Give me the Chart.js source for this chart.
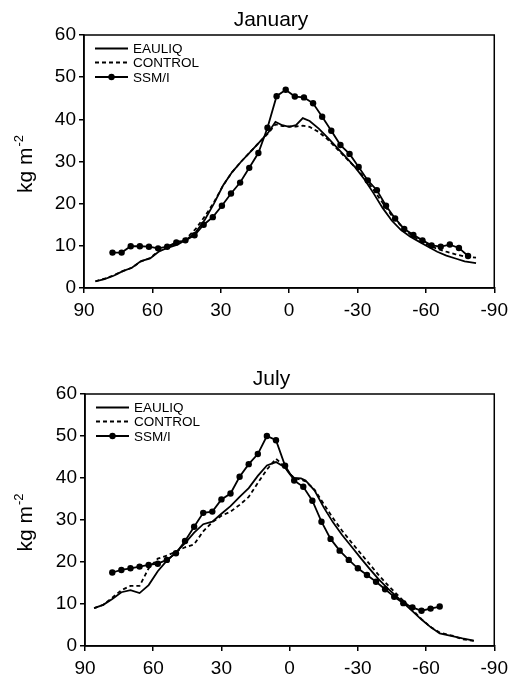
<!DOCTYPE html>
<html>
<head>
<meta charset="utf-8">
<script src="https://cdn.jsdelivr.net/npm/chart.js@4"></script>
<style>
  body { margin: 0; background: #fff; }
  canvas { position: absolute; left: 0; }
  #jan-chart { top: 0; }
  #jul-chart { top: 340px; }
</style>
</head>
<body>
<canvas id="jan-chart" width="514" height="340"></canvas>
<canvas id="jul-chart" width="514" height="338"></canvas>
<script>
// January: model runs on their latitude grid, SSM/I on its own
const janModelLat = [85, 81, 77, 73, 69, 65, 61, 57, 53, 49, 45, 41, 37, 33, 29, 25, 21, 17, 13, 9,
    6, 3, 0, -3, -6, -9, -13, -17, -21, -25, -29, -33, -37, -41, -45, -49, -53, -57, -61, -65,
    -69, -73, -77, -82];
const janEauliq = [1.6, 2.1, 2.9, 4.0, 4.8, 6.4, 7.0, 8.7, 9.6, 10.3, 11.5, 13.2, 16.2, 20.0, 24.3, 27.5, 30.0, 32.3, 34.6, 37.0,
    39.4, 38.6, 38.2, 38.6, 40.3, 39.6, 37.8, 35.6, 33.3, 31.0, 28.6, 25.8, 22.5, 19.0, 16.0, 13.8, 12.2, 11.0, 9.8, 8.6,
    7.7, 7.0, 6.3, 5.9];
const janControl = [1.6, 2.2, 3.0, 4.0, 4.8, 6.3, 7.1, 8.9, 9.8, 10.8, 11.8, 14.0, 17.0, 20.3, 24.3, 27.5, 30.0, 32.3, 34.6, 36.8,
    38.8, 38.4, 38.3, 38.3, 38.5, 38.2, 37.0, 35.2, 33.0, 30.8, 28.6, 26.2, 23.3, 20.2, 17.2, 14.8, 12.8, 11.3, 10.2, 9.3,
    8.6, 8.0, 7.5, 7.2];
const janSsmiLat = [77.5, 73.5, 69.5, 65.5, 61.5, 57.5, 53.5, 49.5, 45.5, 41.5, 37.5, 33.5, 29.5, 25.5, 21.5, 17.5, 13.5, 9.5, 5.5, 1.5,
    -2.5, -6.5, -10.5, -14.5, -18.5, -22.5, -26.5, -30.5, -34.5, -38.5, -42.5, -46.5, -50.5, -54.5, -58.5, -62.5, -66.5, -70.5, -74.5, -78.5];
const janSsmi = [8.4, 8.4, 9.9, 9.9, 9.8, 9.4, 9.8, 10.8, 11.3, 12.5, 15.0, 16.8, 19.5, 22.4, 25.0, 28.5, 32.0, 38.0, 45.5, 47.0,
    45.4, 45.2, 43.8, 40.6, 37.3, 33.9, 31.8, 28.7, 25.5, 23.2, 19.5, 16.5, 14.0, 12.6, 11.3, 10.1, 9.8, 10.3, 9.5, 7.6];

// July
const julModelLat = [86, 82, 78, 74, 70, 66, 62, 58, 54, 50, 46, 42, 38, 34, 30, 26, 22, 18, 14, 10,
    6, 2, 0, -2, -5, -7, -11, -15, -19, -23, -27, -31, -35, -39, -43, -47, -50, -54, -58, -62,
    -66, -72, -76, -81];
const julEauliq = [9.0, 9.8, 11.2, 12.8, 13.3, 12.6, 14.5, 17.8, 20.3, 22.3, 24.5, 27.0, 29.0, 29.6, 31.5, 33.3, 35.5, 37.6, 40.5, 43.0,
    43.8, 42.5, 41.0, 40.0, 39.9, 39.4, 37.0, 33.0, 29.5, 26.5, 23.8, 21.1, 18.5, 16.0, 13.8, 11.8, 10.3, 8.3, 6.3, 4.5,
    3.0, 2.3, 1.8, 1.3];
const julControl = [9.0, 9.8, 11.5, 13.3, 14.3, 14.3, 18.5, 20.8, 21.5, 22.5, 23.5, 24.2, 27.3, 29.5, 31.0, 32.0, 33.6, 35.5, 38.8, 42.0,
    44.6, 42.6, 41.0, 40.0, 39.6, 39.2, 37.2, 33.8, 30.5, 27.5, 24.8, 22.2, 19.6, 17.0, 14.6, 12.4, 10.8, 8.6, 6.4, 4.5,
    3.2, 2.4, 1.6, 1.2];
const julSsmiLat = [78, 74, 70, 66, 62, 58, 54, 50, 46, 42, 38, 34, 30, 26, 22, 18, 14, 10, 6, 2,
    -2, -6, -10, -14, -18, -22, -26, -30, -34, -38, -42, -46, -50, -54, -58, -62, -66];
const julSsmi = [17.5, 18.1, 18.5, 18.9, 19.3, 19.6, 20.5, 22.1, 25.0, 28.4, 31.7, 32.0, 34.9, 36.3, 40.3, 43.3, 45.7, 50.0, 49.0, 42.9,
    39.4, 37.9, 34.6, 29.6, 25.5, 22.7, 20.5, 18.5, 16.9, 15.3, 13.5, 11.7, 10.2, 9.2, 8.4, 8.9, 9.4];

const latTicks = [90, 60, 30, 0, -30, -60, -90];
const valueTicks = [0, 10, 20, 30, 40, 50, 60];
const seriesNames = ['EAULIQ', 'CONTROL', 'SSM/I'];

const FONT = '"Liberation Sans", Arial, Helvetica, sans-serif';
Chart.defaults.font.family = FONT;
Chart.defaults.color = '#000';

function toPoints(lat, values) {
    return lat.map((x, i) => ({ x: x, y: values[i] }));
}

// box around the plot area
const framePlugin = {
    id: 'frame',
    afterDraw(chart) {
        const { ctx, chartArea: a } = chart;
        ctx.save();
        ctx.strokeStyle = '#000';
        ctx.lineWidth = 1.5;
        ctx.strokeRect(a.left, a.top, a.right - a.left, a.bottom - a.top);
        ctx.restore();
    }
};

// legend sits inside the plot, top left
const insideLegend = {
    id: 'insideLegend',
    afterDatasetsDraw(chart) {
        const { ctx, chartArea: a } = chart;
        const rows = [13.5, 27.5, 42];
        chart.data.datasets.forEach((ds, i) => {
            const y = a.top + rows[i];
            const x0 = a.left + 11;
            const x1 = a.left + 44;
            ctx.save();
            ctx.strokeStyle = ds.borderColor;
            ctx.lineWidth = ds.borderWidth;
            ctx.setLineDash(ds.borderDash || []);
            ctx.beginPath();
            ctx.moveTo(x0, y);
            ctx.lineTo(x1, y);
            ctx.stroke();
            ctx.setLineDash([]);
            if (ds.pointRadius > 0) {
                ctx.beginPath();
                ctx.arc((x0 + x1) / 2, y, ds.pointRadius, 0, Math.PI * 2);
                ctx.fillStyle = ds.pointBackgroundColor;
                ctx.fill();
            }
            ctx.fillStyle = '#000';
            ctx.font = '13.5px ' + FONT;
            ctx.textBaseline = 'middle';
            ctx.fillText(ds.label, x1 + 5, y + 1);
            ctx.restore();
        });
    }
};

// "kg m-2" with a raised exponent, written up the left side
const unitTitle = {
    id: 'unitTitle',
    afterDraw(chart) {
        const { ctx, chartArea: a } = chart;
        ctx.save();
        ctx.translate(26, (a.top + a.bottom) / 2 + 3);
        ctx.rotate(-Math.PI / 2);
        ctx.fillStyle = '#000';
        ctx.textBaseline = 'middle';
        ctx.font = '21px ' + FONT;
        const w1 = ctx.measureText('kg m').width;
        ctx.font = '13px ' + FONT;
        const w2 = ctx.measureText('-2').width;
        const x = -(w1 + w2) / 2;
        ctx.font = '21px ' + FONT;
        ctx.fillText('kg m', x, 0);
        ctx.font = '13px ' + FONT;
        ctx.fillText('-2', x + w1 + 1, -7);
        ctx.restore();
    }
};

function makeChart(canvasId, title, modelLat, eauliq, control, ssmiLat, ssmi, box) {
    const canvas = document.querySelector(canvasId);
    return new Chart(canvas.getContext('2d'), {
        type: 'line',
        data: {
            datasets: [
                {
                    label: seriesNames[0],
                    data: toPoints(modelLat, eauliq),
                    borderColor: '#000',
                    borderWidth: 1.8,
                    pointRadius: 0
                },
                {
                    label: seriesNames[1],
                    data: toPoints(modelLat, control),
                    borderColor: '#000',
                    borderWidth: 1.8,
                    borderDash: [4, 3],
                    pointRadius: 0
                },
                {
                    label: seriesNames[2],
                    data: toPoints(ssmiLat, ssmi),
                    borderColor: '#000',
                    borderWidth: 1.8,
                    pointRadius: 3.2,
                    pointBorderWidth: 0,
                    pointBackgroundColor: '#000'
                }
            ]
        },
        options: {
            responsive: false,
            animation: false,
            layout: { padding: { left: box.padLeft, right: box.padRight, top: 0, bottom: 0 } },
            plugins: {
                legend: { display: false },
                tooltip: { enabled: false },
                title: {
                    display: true,
                    text: title,
                    color: '#000',
                    font: { size: 21, weight: 'normal' },
                    padding: { top: box.titleTop, bottom: box.titleBottom }
                }
            },
            scales: {
                x: {
                    type: 'linear',
                    min: -90,
                    max: 90,
                    reverse: true,
                    afterBuildTicks: scale => { scale.ticks = latTicks.map(v => ({ value: v })); },
                    afterFit: scale => { scale.height = box.xHeight; },
                    ticks: { font: { size: 19 }, padding: 6, maxRotation: 0, autoSkip: false },
                    grid: { drawOnChartArea: false, drawTicks: true, tickLength: 5, color: '#000', lineWidth: 1.5 },
                    border: { color: '#000', width: 1.5 }
                },
                y: {
                    min: 0,
                    max: 60,
                    afterBuildTicks: scale => { scale.ticks = valueTicks.map(v => ({ value: v })); },
                    afterFit: scale => { scale.width = box.yWidth; },
                    ticks: { font: { size: 19 }, padding: 3 },
                    grid: { drawOnChartArea: false, drawTicks: true, tickLength: 5, color: '#000', lineWidth: 1.5 },
                    border: { color: '#000', width: 1.5 }
                }
            }
        },
        plugins: [framePlugin, insideLegend, unitTitle]
    });
}

makeChart('#jan-chart', 'January', janModelLat, janEauliq, janControl, janSsmiLat, janSsmi,
    { padLeft: 45, padRight: 17, yWidth: 39, xHeight: 52, titleTop: 8, titleBottom: 1.8 });
makeChart('#jul-chart', 'July', julModelLat, julEauliq, julControl, julSsmiLat, julSsmi,
    { padLeft: 45, padRight: 16, yWidth: 40, xHeight: 32, titleTop: 27, titleBottom: 1.8 });
</script>
</body>
</html>
